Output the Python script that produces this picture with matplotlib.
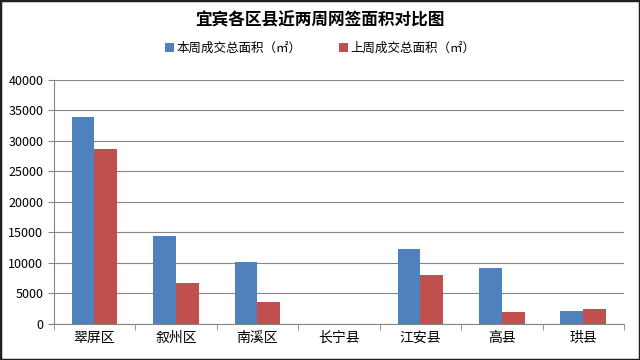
import numpy as np
import matplotlib
matplotlib.use("Agg")
import matplotlib.pyplot as plt
from matplotlib.patches import Rectangle

plt.rcParams["font.family"] = ["Noto Sans CJK SC", "DejaVu Sans"]

# data
districts = ["翠屏区", "叙州区", "南溪区", "长宁县", "江安县", "高县", "珙县"]
this_week = [34000, 14400, 10200, 0, 12300, 9200, 2200]
last_week = [28700, 6700, 3600, 0, 8000, 2000, 2400]
series_names = ["本周成交总面积（㎡）", "上周成交总面积（㎡）"]
title = "宜宾各区县近两周网签面积对比图"

blue = "#4F81BD"
red = "#C0504D"

fig = plt.figure(figsize=(6.4, 3.6), dpi=100)
ax = fig.add_axes([0.084, 0.1, 0.891, 0.678])

x = np.arange(len(districts))
w = 0.28
b1 = ax.bar(x - w / 2, this_week, w, color=blue, label=series_names[0])
b2 = ax.bar(x + w / 2, last_week, w, color=red, label=series_names[1])

ax.set_xlim(-0.5, len(districts) - 0.5)
ax.set_ylim(0, 40000)
ax.set_yticks(range(0, 40001, 5000))
ax.set_xticks(x)
ax.set_xticklabels(districts, fontsize=10)
ax.set_xticks(np.arange(-0.5, len(districts), 1), minor=True)
ax.tick_params(axis="x", which="major", length=0, pad=5)
ax.tick_params(axis="x", which="minor", length=4, color="#868686")
ax.tick_params(axis="y", length=4, color="#868686", labelsize=9)
ax.grid(axis="y", color="#868686", linewidth=0.8)
ax.set_axisbelow(True)
for s in ["top", "right"]:
    ax.spines[s].set_visible(False)
ax.spines["left"].set_color("#868686")
ax.spines["bottom"].set_color("#868686")

fig.text(0.5, 0.942, title, ha="center", va="center", fontsize=12, fontweight="bold")
fig.legend(handles=[b1, b2], loc="center", bbox_to_anchor=(0.5, 0.865), ncol=2,
           frameon=False, fontsize=9, handlelength=0.7, handleheight=0.7,
           handletextpad=0.2, columnspacing=3)

fig.patches.append(Rectangle((0, 0), 1, 1, transform=fig.transFigure, fill=False,
                             edgecolor="#202020", linewidth=2.5))

fig.savefig("out.png", dpi=100)
